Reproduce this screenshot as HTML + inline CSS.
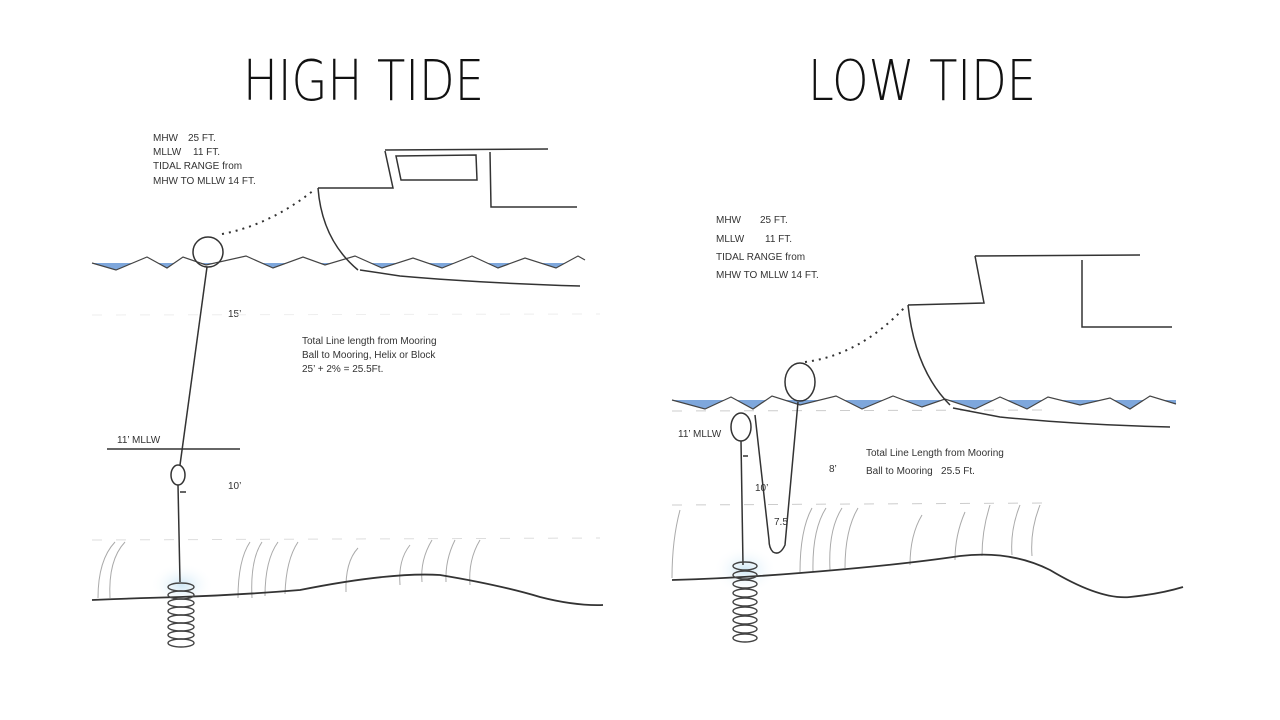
<!DOCTYPE html>
<html><head><meta charset="utf-8"><style>
html,body{margin:0;padding:0;background:#fff;}
svg{display:block;}
.t{font-family:"Liberation Sans Narrow","Liberation Sans",sans-serif;font-size:10px;fill:#333;}
.ttl{font-family:"DejaVu Sans ExtraLight","DejaVu Sans","Liberation Sans",sans-serif;font-weight:200;font-size:56px;fill:#111;}
</style></head><body>
<svg width="1280" height="720" viewBox="0 0 1280 720" xmlns="http://www.w3.org/2000/svg">
<defs>
<radialGradient id="glow" cx="50%" cy="50%" r="50%"><stop offset="0" stop-color="#cfe8f6"/><stop offset="1" stop-color="#fff" stop-opacity="0"/></radialGradient>
<clipPath id="cl1"><rect x="90" y="263" width="495" height="20"/></clipPath>
<clipPath id="cl2"><rect x="670" y="400" width="510" height="20"/></clipPath>
</defs>
<rect width="1280" height="720" fill="#fff"/>
<text x="243" y="100" class="ttl" textLength="241" lengthAdjust="spacingAndGlyphs">HIGH TIDE</text>
<text x="808" y="100" class="ttl" textLength="228" lengthAdjust="spacingAndGlyphs">LOW TIDE</text>

<!-- LEFT -->
<g class="t"><text x="153" y="141">MHW</text><text x="188" y="141">25 FT.</text>
<text x="153" y="155">MLLW</text><text x="193" y="155">11 FT.</text>
<text x="153" y="169">TIDAL RANGE from</text><text x="153" y="184">MHW TO MLLW 14 FT.</text>
<text x="228" y="317">15’</text><text x="228" y="489">10’</text><text x="117" y="443">11’ MLLW</text>
<text x="302" y="344">Total Line length from Mooring</text>
<text x="302" y="358">Ball to Mooring, Helix or Block</text>
<text x="302" y="372">25’ + 2% = 25.5Ft.</text></g>
<line x1="92" y1="540" x2="600" y2="538" stroke="#ddd" stroke-dasharray="10 14"/>
<line x1="92" y1="315" x2="600" y2="314" stroke="#eee" stroke-dasharray="10 14"/>
<g fill="none" stroke="#aaa" stroke-width="1">
<path d="M115 542 Q98 560 98 598"/><path d="M125 542 Q108 560 110 598"/>
<path d="M250 542 Q238 560 238 598"/><path d="M262 542 Q250 560 252 598"/><path d="M278 542 Q265 560 265 596"/><path d="M298 542 Q286 560 285 594"/>
<path d="M358 548 Q345 562 346 592"/><path d="M410 545 Q398 560 400 585"/><path d="M432 540 Q420 560 422 582"/>
<path d="M455 540 Q445 560 446 582"/><path d="M480 540 Q468 560 470 585"/>
</g>
<ellipse cx="182" cy="585" rx="32" ry="22" fill="url(#glow)"/>
<path d="M92 263 L116 270 L147 257 L167 268 L183 257 L206 265 L246 256 L273 268 L303 257 L325 265 L355 256 L382 268 L413 258 L442 268 L472 256 L498 268 L525 258 L556 268 L578 256 L585 260 L585 240 L92 240Z" fill="#7ea7dc" clip-path="url(#cl1)"/>
<polyline points="92,263 116,270 147,257 167,268 183,257 206,265 246,256 273,268 303,257 325,265 355,256 382,268 413,258 442,268 472,256 498,268 525,258 556,268 578,256 585,260" fill="none" stroke="#444" stroke-width="1.2"/>
<g fill="none" stroke="#333" stroke-width="1.5">
<path d="M385 150 L548 149"/><path d="M385 151 L393 188 L318 188"/>
<path d="M396 156 L476 155 L477 180 L401 180 Z"/>
<path d="M490 152 L491 207 L577 207"/>
<path d="M318 188 Q322 240 358 270"/><path d="M360 270 L400 276 Q480 283 580 286"/>
<circle cx="208" cy="252" r="15"/>
<path d="M207 267 L180 465"/><ellipse cx="178" cy="475" rx="7" ry="10"/>
<path d="M178 485 L180 582"/><path d="M180 492 L186 492"/>
<path d="M107 449 L240 449"/>
<path d="M92 600 Q140 598 180 597 Q240 595 300 590 Q390 572 440 575 Q500 585 540 597 Q575 606 603 605" stroke-width="1.8"/>
<path d="M222 234 Q270 225 314 190" stroke-dasharray="2 5" stroke-width="2"/>
</g>
<g fill="none" stroke="#444" stroke-width="1.4">
<ellipse cx="181" cy="587" rx="13" ry="4"/><ellipse cx="181" cy="595" rx="13" ry="4"/><ellipse cx="181" cy="603" rx="13" ry="4"/><ellipse cx="181" cy="611" rx="13" ry="4"/><ellipse cx="181" cy="619" rx="13" ry="4"/><ellipse cx="181" cy="627" rx="13" ry="4"/><ellipse cx="181" cy="635" rx="13" ry="4"/><ellipse cx="181" cy="643" rx="13" ry="4"/>
</g>

<!-- RIGHT -->
<g class="t"><text x="716" y="223">MHW</text><text x="760" y="223">25 FT.</text>
<text x="716" y="242">MLLW</text><text x="765" y="242">11 FT.</text>
<text x="716" y="260">TIDAL RANGE from</text><text x="716" y="278">MHW TO MLLW 14 FT.</text>
<text x="678" y="437">11’ MLLW</text><text x="755" y="491">10’</text><text x="774" y="525">7.5</text><text x="829" y="472">8’</text>
<text x="866" y="456">Total Line Length from Mooring</text>
<text x="866" y="474">Ball to Mooring&#160;&#160;&#160;25.5 Ft.</text></g>
<line x1="672" y1="411" x2="1050" y2="410" stroke="#ccc" stroke-dasharray="10 14"/>
<line x1="672" y1="505" x2="1050" y2="503" stroke="#ccc" stroke-dasharray="10 14"/>
<g fill="none" stroke="#aaa" stroke-width="1">
<path d="M680 510 Q672 540 672 578"/><path d="M812 508 Q800 530 800 572"/><path d="M826 508 Q812 530 813 572"/><path d="M842 508 Q828 530 830 570"/><path d="M858 508 Q845 530 845 568"/>
<path d="M922 515 Q910 535 910 565"/><path d="M965 512 Q955 535 955 560"/><path d="M990 505 Q982 530 982 556"/><path d="M1020 505 Q1010 530 1012 555"/><path d="M1040 505 Q1030 530 1032 556"/>
</g>
<ellipse cx="745" cy="570" rx="32" ry="24" fill="url(#glow)"/>
<path d="M672 400 L705 409 L731 397 L753 409 L772 396 L800 405 L836 396 L862 409 L893 396 L922 407 L945 399 L975 409 L1000 397 L1027 409 L1048 397 L1080 405 L1110 398 L1130 409 L1150 396 L1176 404 L1176 380 L672 380Z" fill="#7ea7dc" clip-path="url(#cl2)"/>
<polyline points="672,400 705,409 731,397 753,409 772,396 800,405 836,396 862,409 893,396 922,407 945,399 975,409 1000,397 1027,409 1048,397 1080,405 1110,398 1130,409 1150,396 1176,404" fill="none" stroke="#444" stroke-width="1.2"/>
<g fill="none" stroke="#333" stroke-width="1.5">
<path d="M975 256 L1140 255"/><path d="M975 256 L984 303 L908 305"/>
<path d="M1082 260 L1082 327 L1172 327"/>
<path d="M908 305 Q915 370 950 405"/><path d="M953 408 L1000 417 Q1080 425 1170 427"/>
<ellipse cx="800" cy="382" rx="15" ry="19"/>
<path d="M798 402 L785 545 Q780 556 773 552 Q769 548 769 540 L755 415"/>
<ellipse cx="741" cy="427" rx="10" ry="14"/>
<path d="M741 441 L743 565"/><path d="M743 456 L748 456"/>
<path d="M672 580 Q740 578 800 573 Q900 565 960 556 Q1010 550 1050 570 Q1100 600 1130 597 Q1160 594 1183 587" stroke-width="1.8"/>
<path d="M805 362 Q860 355 905 307" stroke-dasharray="2 5" stroke-width="2"/>
</g>
<g fill="none" stroke="#444" stroke-width="1.4">
<ellipse cx="745" cy="566" rx="12" ry="4"/><ellipse cx="745" cy="575" rx="12" ry="4"/><ellipse cx="745" cy="584" rx="12" ry="4"/><ellipse cx="745" cy="593" rx="12" ry="4"/><ellipse cx="745" cy="602" rx="12" ry="4"/><ellipse cx="745" cy="611" rx="12" ry="4"/><ellipse cx="745" cy="620" rx="12" ry="4"/><ellipse cx="745" cy="629" rx="12" ry="4"/><ellipse cx="745" cy="638" rx="12" ry="4"/>
</g>
</svg>
</body></html>
